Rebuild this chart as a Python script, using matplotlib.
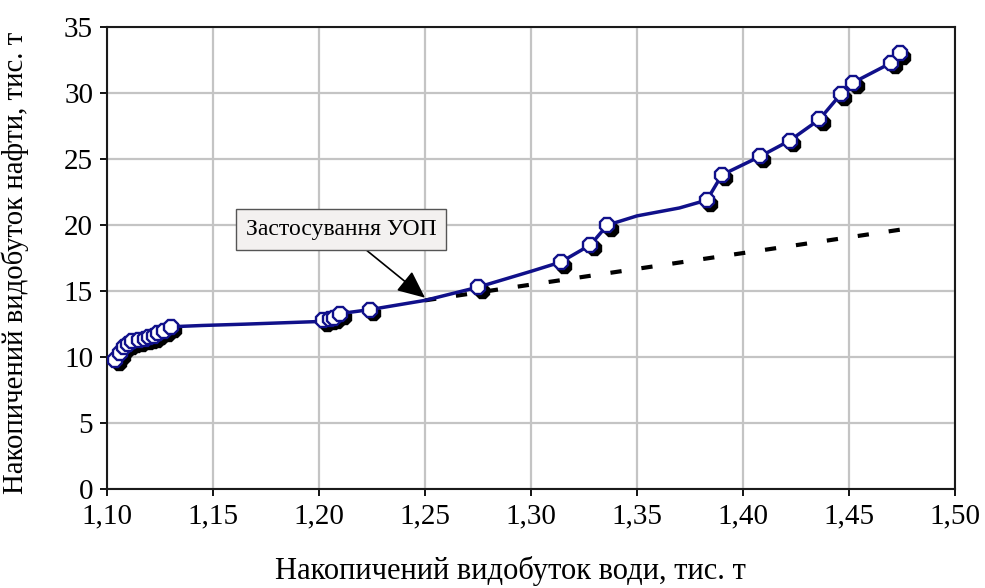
import matplotlib
matplotlib.use("Agg")
import matplotlib.pyplot as plt
from matplotlib.transforms import offset_copy

# накопичений видобуток води (x) та нафти (y), тис. т
water = [1.104, 1.106, 1.108, 1.110, 1.112, 1.115, 1.118, 1.120, 1.122, 1.124,
         1.127, 1.130, 1.202, 1.205, 1.207, 1.210, 1.224, 1.275, 1.314, 1.328,
         1.336, 1.383, 1.390, 1.408, 1.422, 1.436, 1.446, 1.452, 1.470, 1.474]
oil = [9.8, 10.3, 10.8, 11.0, 11.2, 11.3, 11.4, 11.5, 11.6, 11.8,
       12.0, 12.3, 12.8, 12.9, 13.0, 13.3, 13.6, 15.3, 17.2, 18.5,
       20.0, 21.9, 23.8, 25.2, 26.4, 28.0, 29.9, 30.8, 32.3, 33.0]

# лінія між точками
line_x = [1.104, 1.106, 1.108, 1.110, 1.112, 1.115, 1.118, 1.120, 1.122, 1.124,
          1.127, 1.130, 1.145, 1.165, 1.200, 1.202, 1.205, 1.207, 1.210, 1.224,
          1.250, 1.275, 1.300, 1.314, 1.328, 1.336, 1.350, 1.370, 1.383, 1.390,
          1.408, 1.422, 1.436, 1.446, 1.452, 1.470, 1.474]
line_y = [9.8, 10.3, 10.8, 11.0, 11.2, 11.3, 11.4, 11.5, 11.6, 11.8,
          12.0, 12.3, 12.4, 12.5, 12.7, 12.8, 12.9, 13.0, 13.3, 13.6,
          14.3, 15.3, 16.5, 17.2, 18.5, 20.0, 20.7, 21.3, 21.9, 23.8,
          25.2, 26.4, 28.0, 29.9, 30.8, 32.3, 33.0]

# прогноз без застосування УОП
trend_x = [1.250, 1.476]
trend_y = [14.3, 19.7]

xticks = [1.10, 1.15, 1.20, 1.25, 1.30, 1.35, 1.40, 1.45, 1.50]
yticks = [0, 5, 10, 15, 20, 25, 30, 35]

plt.rcParams["font.family"] = ["Liberation Serif", "DejaVu Serif"]

fig = plt.figure(figsize=(9.85, 5.88), dpi=100)
ax = fig.add_axes([0.1086, 0.168, 0.861, 0.786])

ax.grid(True, color="#c4c4c4", linewidth=1.6, zorder=0)
ax.set_axisbelow(True)

ax.plot(trend_x, trend_y, color="black", linewidth=3, linestyle=(0, (2.7, 4.8)),
        zorder=2)

# тінь маркерів
shadow = offset_copy(ax.transData, fig=fig, x=3.5, y=-3.5, units="dots")
ax.plot(water, oil, linestyle="none", marker="8", markersize=11,
        color="black", transform=shadow, zorder=3)
ax.plot(line_x, line_y, color="#10108a", linewidth=2.5, zorder=4)
ax.plot(water, oil, linestyle="none", marker="8", markersize=11,
        markerfacecolor="white", markeredgecolor="#10108a",
        markeredgewidth=1.7, zorder=5)

ax.annotate("Застосування УОП", xy=(1.250, 14.5), xytext=(1.2105, 19.65),
            fontsize=17, ha="center", va="center",
            bbox=dict(boxstyle="square,pad=0.42", facecolor="#f3f1f0",
                      edgecolor="#555555", linewidth=1),
            arrowprops=dict(arrowstyle="-|>,head_length=1.0,head_width=0.45",
                            color="black", linewidth=1.2,
                            shrinkA=0, shrinkB=0),
            zorder=6)

ax.set_xlim(1.10, 1.50)
ax.set_ylim(0, 35)
ax.set_xticks(xticks)
ax.set_xticklabels([f"{v:.2f}".replace(".", ",") for v in xticks])
ax.set_yticks(yticks)
ax.tick_params(labelsize=21, direction="out", length=5, width=1.3, pad=5)
for s in ax.spines.values():
    s.set_linewidth(1.5)
    s.set_color("#1a1a1a")

ax.set_xlabel("Накопичений видобуток води, тис. т", fontsize=22)
ax.set_ylabel("Накопичений видобуток нафти, тис. т", fontsize=20.7)
ax.xaxis.set_label_coords(0.476, -0.145)
ax.yaxis.set_label_coords(-0.092, 0.49)

fig.savefig("out.png", dpi=100)
